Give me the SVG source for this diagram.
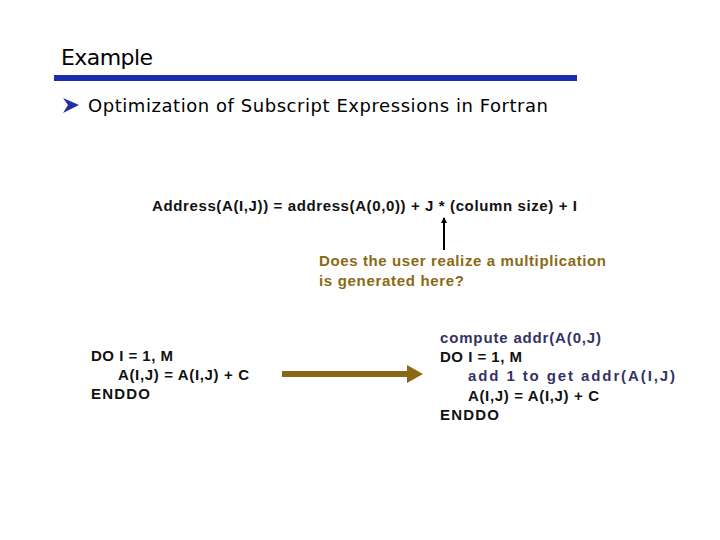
<svg xmlns="http://www.w3.org/2000/svg" width="720" height="540" viewBox="0 0 720 540">
<style>
.t{font-family:"Liberation Sans",Arial,sans-serif;font-size:15px;font-weight:bold;fill:#111}
.h{font-family:"DejaVu Sans",sans-serif;fill:#000}
.b{fill:#333366}
.o{fill:#8B6914}
</style>
<defs><marker id="ah" markerWidth="6" markerHeight="6" refX="5" refY="3" orient="auto" markerUnits="userSpaceOnUse" viewBox="0 0 6 6"><path d="M0,0L6,3L0,6z" fill="#000"/></marker></defs>
<rect width="720" height="540" fill="#fff"/>
<text class="h" x="61" y="65" font-size="22" textLength="92">Example</text>
<rect x="54" y="75" width="523" height="6" fill="#1a2db0"/>
<path d="M63,98 L79,105 L63,113 L68,105 Z" fill="#2030a0"/>
<text class="h" x="88" y="112" font-size="18" textLength="460">Optimization of Subscript Expressions in Fortran</text>
<g id="formula"><text class="t" x="152" y="211" textLength="425">Address(A(I,J)) = address(A(0,0)) + J * (column size) + I</text></g>
<g id="question"><text class="t o" x="319" y="266" textLength="287">Does the user realize a multiplication</text><text class="t o" x="319" y="286" textLength="145">is generated here?</text></g>
<g id="left"><text class="t" x="91" y="361" textLength="82">DO I = 1, M</text><text class="t" x="118" y="380" textLength="131">A(I,J) = A(I,J) + C</text><text class="t" x="91" y="399" textLength="59">ENDDO</text></g>
<g id="right"><text class="t b" x="440" y="343" textLength="161">compute addr(A(0,J)</text><text class="t" x="440" y="362" textLength="82">DO I = 1, M</text><text class="t b" x="468" y="381" textLength="207">add 1 to get addr(A(I,J)</text><text class="t" x="468" y="401" textLength="131">A(I,J) = A(I,J) + C</text><text class="t" x="440" y="420" textLength="59">ENDDO</text></g>
<g id="connectors">
<line x1="444" y1="250" x2="444" y2="218" stroke="#000" stroke-width="2" marker-end="url(#ah)"/>
<rect x="282" y="371" width="133" height="6" fill="#8B6914"/>
<path d="M407,365 L423,374 L407,383 Z" fill="#8B6914"/>
</g>
</svg>
